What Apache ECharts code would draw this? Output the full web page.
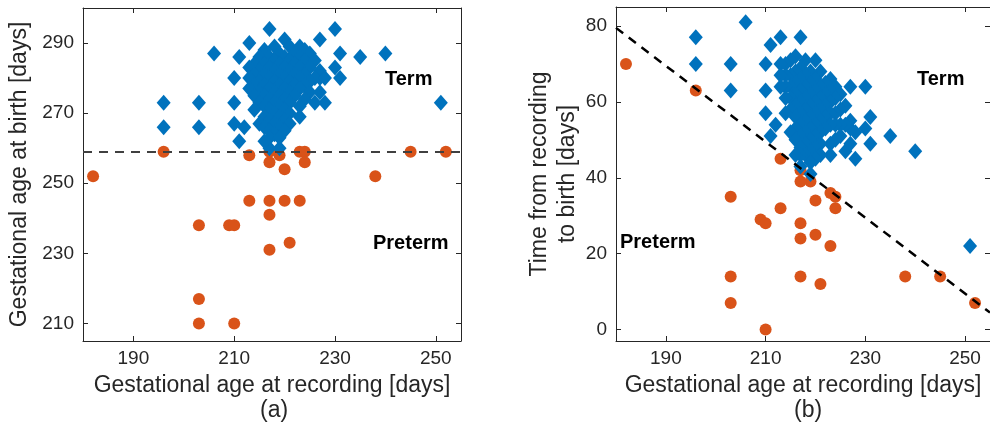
<!DOCTYPE html>
<html>
<head>
<meta charset="utf-8">
<script src="https://cdn.jsdelivr.net/npm/echarts@6/dist/echarts.min.js"></script>
<style>html,body{margin:0;padding:0;background:#fff}#c{width:990px;height:434px}</style>
</head>
<body>
<div id="c"></div>
<script>
// ---- data ----
const xTicks = [190, 210, 230, 250];
const leftYTicks = [210, 230, 250, 270, 290];
const rightYTicks = [0, 20, 40, 60, 80];
const termThreshold = 259;
const boundaryLine = [[180, 79.5], [255, 4.5]];

const pretermRec   = [182,196,213,217,219,217,220,223,224,224,238,245,252,213,217,220,223,217,203,209,210,221,217,203,203,210];
const pretermBirth = [252,259,258,259,258,256,254,259,259,256,252,259,259,245,245,245,245,241,238,238,238,233,231,217,210,210];
const pretermToBirth = [70,63,45,42,39,39,34,36,35,32,14,14,7,32,28,25,22,24,35,29,28,12,14,14,7,0];

const termRec = [
  196,196,203,203,206,210,210,210,212,211,211,213,217,220,227,230,231,235,240,251,230,231,228,226,227,217,219,
  218,221,223, 216,224, 219,222,225, 215,217,220,223, 218,221,224,226, 214,216,219,222,
  213,217,220,223,225, 215,218,221,227, 214,216,219,222,224, 213,217,220,223,226,228,
  215,218,221,225, 214,216,219,222,224, 213,217,220,223, 215,218,221,225,227, 214,216,219,222,
  217,220,224, 215,218,221, 216,219,223, 214,217,220, 218,221, 216,219,223, 217,220,
  215,218,221, 216,219, 217,220, 218, 217,219, 216
];
const termBirth = [
  273,266,273,266,287,280,273,267,266,262,286,290,294,291,291,294,287,286,287,273,283,280,273,273,280,260,260,
  289,289,289, 288,288, 287,287,287, 286,286,286,286, 285,285,285,285, 284,284,284,284,
  283,283,283,283,283, 282,282,282,282, 281,281,281,281,281, 280,280,280,280,280,280,
  279,279,279,279, 278,278,278,278,278, 277,277,277,277, 276,276,276,276,276, 275,275,275,275,
  274,274,274, 273,273,273, 272,272,272, 271,271,271, 270,270, 269,269,269, 268,268,
  267,267,267, 266,266, 265,265, 264, 263,263, 262
];
const termToBirth = [
  77,70,70,63,81,70,63,57,54,51,75,77,77,71,64,64,56,51,47,22,53,49,45,47,53,43,41,
  71,68,66, 72,64, 68,65,62, 71,69,66,63, 67,64,61,59, 70,68,65,62,
  70,66,63,60,58, 67,64,61,55, 67,65,62,59,57, 67,63,60,57,54,52,
  64,61,58,54, 64,62,59,56,54, 64,60,57,54, 61,58,55,51,49, 61,59,56,53,
  57,54,50, 58,55,52, 56,53,49, 57,54,51, 52,49, 53,50,46, 51,48,
  52,49,46, 50,47, 48,45, 46, 46,44, 46
];

// ---- chart ----
const BLUE = '#0072BD', ORANGE = '#D95319', AX = '#262626';
const FONT = 'Liberation Sans, Arial, Helvetica, sans-serif';
const zip = (a, b) => a.map((v, i) => [v, b[i]]);

function xAx(grid, pos, showLabel, name) {
  return {
    type: 'value', gridIndex: grid, position: pos, min: 180, max: 255,
    axisLine: {show: true, onZero: false, lineStyle: {color: AX, width: 1}},
    axisTick: {show: true, inside: true, length: 5, customValues: xTicks, lineStyle: {color: AX}},
    axisLabel: {show: showLabel, customValues: xTicks, fontSize: 19, color: AX, margin: 8, fontFamily: FONT},
    splitLine: {show: false},
    name: name || '', nameLocation: 'middle', nameGap: 33,
    nameTextStyle: {fontSize: 23, color: AX, fontFamily: FONT}
  };
}
function yAx(grid, pos, showLabel, min, max, ticks, name, gap) {
  return {
    type: 'value', gridIndex: grid, position: pos, min: min, max: max,
    axisLine: {show: true, onZero: false, lineStyle: {color: AX, width: 1}},
    axisTick: {show: true, inside: true, length: 5, customValues: ticks, lineStyle: {color: AX}},
    axisLabel: {show: showLabel, customValues: ticks, fontSize: 19, color: AX, margin: 9, fontFamily: FONT},
    splitLine: {show: false},
    name: name || '', nameLocation: 'middle', nameGap: gap || 40,
    nameTextStyle: {fontSize: 23, color: AX, fontFamily: FONT, lineHeight: 28}
  };
}

const chart = echarts.init(document.getElementById('c'), null, {renderer: 'canvas'});
chart.setOption({
  animation: false,
  backgroundColor: '#fff',
  grid: [
    {left: 83, top: 8, width: 378, height: 333},
    {left: 616, top: 7, width: 380, height: 334}
  ],
  xAxis: [
    xAx(0, 'bottom', true, 'Gestational age at recording [days]'),
    xAx(0, 'top', false),
    xAx(1, 'bottom', true, 'Gestational age at recording [days]'),
    xAx(1, 'top', false)
  ],
  yAxis: [
    yAx(0, 'left', true, 205, 300, leftYTicks, 'Gestational age at birth [days]', 49),
    yAx(0, 'right', false, 205, 300, leftYTicks),
    yAx(1, 'left', true, -3, 85, rightYTicks, 'Time from recording\nto birth [days]', 30),
    yAx(1, 'right', false, -3, 85, rightYTicks)
  ],
  series: [
    {
      type: 'scatter', xAxisIndex: 0, yAxisIndex: 0, symbol: 'circle', symbolSize: 12,
      itemStyle: {color: ORANGE, opacity: 1}, data: zip(pretermRec, pretermBirth),
      markLine: {
        silent: true, symbol: 'none', label: {show: false},
        lineStyle: {color: '#404040', width: 2, type: [9, 7], opacity: 1},
        data: [{yAxis: termThreshold}]
      }
    },
    {
      type: 'scatter', xAxisIndex: 0, yAxisIndex: 0, symbol: 'diamond', symbolSize: [14, 16],
      itemStyle: {color: BLUE, opacity: 1}, data: zip(termRec, termBirth)
    },
    {
      type: 'scatter', xAxisIndex: 2, yAxisIndex: 2, symbol: 'circle', symbolSize: 12,
      itemStyle: {color: ORANGE, opacity: 1}, data: zip(pretermRec, pretermToBirth)
    },
    {
      type: 'scatter', xAxisIndex: 2, yAxisIndex: 2, symbol: 'diamond', symbolSize: [14, 16],
      itemStyle: {color: BLUE, opacity: 1}, data: zip(termRec, termToBirth)
    },
    {
      type: 'line', xAxisIndex: 2, yAxisIndex: 2, symbol: 'none', z: 5,
      lineStyle: {color: '#000', width: 2.5, type: [9, 7]}, data: boundaryLine
    }
  ],
  graphic: [
    {type: 'text', left: 385, top: 69, style: {text: 'Term', font: 'bold 20px ' + FONT, fill: '#000'}},
    {type: 'text', left: 373, top: 233, style: {text: 'Preterm', font: 'bold 20px ' + FONT, fill: '#000'}},
    {type: 'text', left: 917, top: 69, style: {text: 'Term', font: 'bold 20px ' + FONT, fill: '#000'}},
    {type: 'text', left: 620, top: 232, style: {text: 'Preterm', font: 'bold 20px ' + FONT, fill: '#000'}},
    {type: 'text', left: 260, top: 399, style: {text: '(a)', font: '23px ' + FONT, fill: AX}},
    {type: 'text', left: 794, top: 399, style: {text: '(b)', font: '23px ' + FONT, fill: AX}}
  ]
});
</script>
</body>
</html>
